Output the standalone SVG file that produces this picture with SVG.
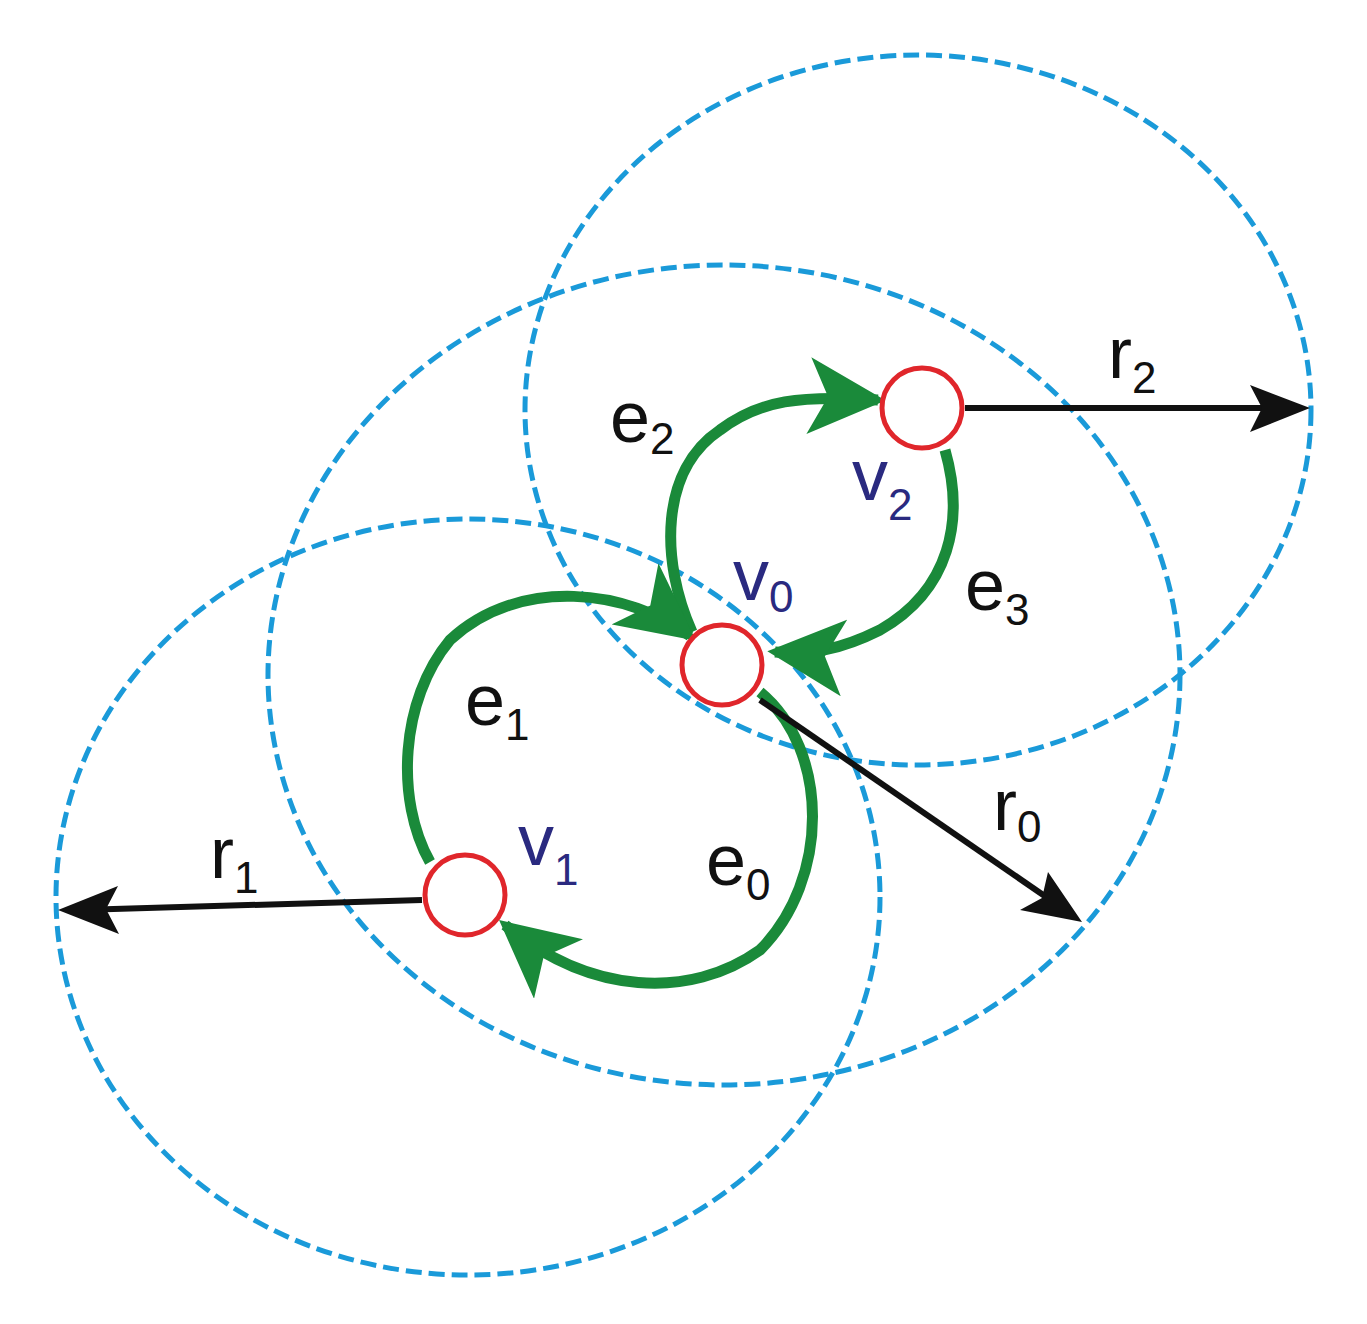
<svg xmlns="http://www.w3.org/2000/svg" width="1367" height="1324" viewBox="0 0 1367 1324">
<style>
.rng{fill:none;stroke:#1a9ad9;stroke-width:5;stroke-dasharray:16 7}
.nd{fill:#fff;stroke:#e0262b;stroke-width:5}
.g{fill:none;stroke:#1a8a3a;stroke-width:11}
.k{fill:none;stroke:#111;stroke-width:6}
.t{font-family:"Liberation Sans",Arial,sans-serif;font-size:72px;fill:#111}
.s{font-size:44px}
.v{fill:#2a2a80}
</style>
<defs>
<marker id="ga" viewBox="0 0 10 10" refX="9" refY="5" markerWidth="7" markerHeight="7" orient="auto"><path d="M0,0 L10,5 L0,10 L2.5,5 Z" fill="#1a8a3a"/></marker>
</defs>
<g id="ranges">
<ellipse class="rng" cx="468" cy="897" rx="412" ry="378"/>
<ellipse class="rng" cx="724" cy="675" rx="456" ry="410"/>
<ellipse class="rng" cx="918" cy="410" rx="393" ry="355"/>
</g>
<g id="connectors">
<path class="g" d="M692,632 C660,560 660,470 720,430 C760,400 800,395 878,400" marker-end="url(#ga)"/>
<path class="g" d="M945,450 C965,520 950,590 880,630 C840,650 810,655 775,652" marker-end="url(#ga)"/>
<path class="g" d="M430,862 C395,800 400,700 450,640 C520,575 630,590 690,636" marker-end="url(#ga)"/>
<path class="g" d="M760,692 C830,750 830,880 760,950 C690,1000 590,995 505,925" marker-end="url(#ga)"/>
<path class="k" d="M965,408 H1290"/>
<path class="k" d="M422,900 L80,910"/>
<path class="k" d="M760,700 L1065,910"/>
<path d="M1310,408 L1250,385 L1262,408 L1250,432 Z" fill="#111"/>
<path d="M58,910 L118,886 L106,909 L119,934 Z" fill="#111"/>
<path d="M1082,922 L1020,910 L1042,898 L1048,872 Z" fill="#111"/>
</g>
<g id="v0"><circle class="nd" cx="722" cy="665" r="40"/><text class="t v" x="733" y="600">v<tspan class="s" dy="12">0</tspan></text></g>
<g id="v1"><circle class="nd" cx="465" cy="895" r="40"/><text class="t v" x="518" y="865">v<tspan class="s" dy="20">1</tspan></text></g>
<g id="v2"><circle class="nd" cx="922" cy="408" r="40"/><text class="t v" x="852" y="500">v<tspan class="s" dy="20">2</tspan></text></g>
<g id="labels">
<text class="t" x="610" y="442">e<tspan class="s" dy="12">2</tspan></text>
<text class="t" x="965" y="610">e<tspan class="s" dy="15">3</tspan></text>
<text class="t" x="465" y="725">e<tspan class="s" dy="15">1</tspan></text>
<text class="t" x="706" y="885">e<tspan class="s" dy="15">0</tspan></text>
<text class="t" x="1108" y="378">r<tspan class="s" dy="15">2</tspan></text>
<text class="t" x="210" y="878">r<tspan class="s" dy="15">1</tspan></text>
<text class="t" x="993" y="830">r<tspan class="s" dy="12">0</tspan></text>
</g>
</svg>
